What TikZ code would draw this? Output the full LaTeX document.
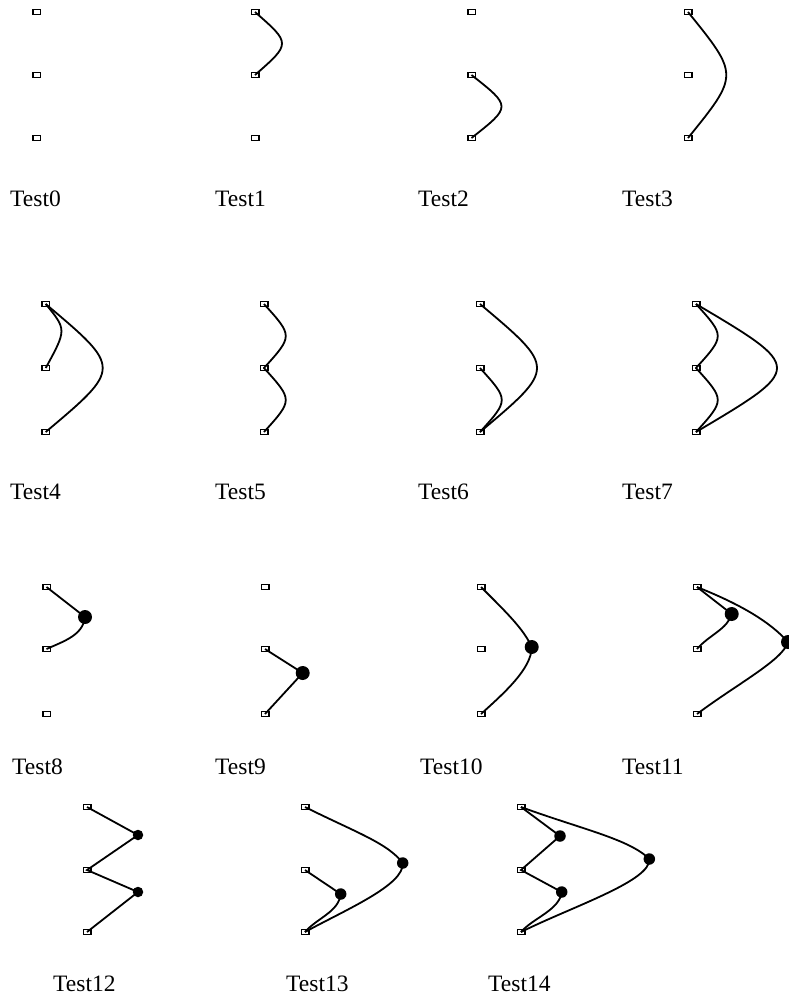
\documentclass[tikz,border=0pt]{standalone}
\usepackage{fontspec}
\setmainfont{Liberation Serif}
\usetikzlibrary{calc}
\tikzset{
  knot/.style={draw,line width=1.5pt,inner sep=0pt,minimum width=7.5pt,minimum height=5pt},
  handle/.style={circle,fill,inner sep=0pt,minimum size=#1},
  handle/.default=14pt,
  spline/.style={line width=1.8pt},
  caption/.style={anchor=base west,inner sep=0pt,font=\fontsize{23.5}{28}\selectfont},
}

\begin{document}
\begin{tikzpicture}[x=1pt,y=1pt]
  \useasboundingbox (0,0) rectangle (788,-997);
  % knots and captions of the fifteen tests
  \foreach \n/\x/\r/\lx in {0/36.5/0/10, 1/255/0/215, 2/471.5/0/418, 3/688/0/622,
      4/45.7/1/10, 5/264/1/215, 6/480/1/418, 7/696/1/622,
      8/46.5/2/12, 9/265/2/215, 10/481/2/420, 11/697/2/622,
      12/87/3/53, 13/305/3/286, 14/521/3/488}
  {
    \pgfmathsetmacro{\yt}{-({12,304,587,807}[\r])}
    \pgfmathsetmacro{\ym}{-({75,368,649,870}[\r])}
    \pgfmathsetmacro{\yb}{-({138,432,714,932}[\r])}
    \pgfmathsetmacro{\yl}{-({206.5,499.5,774,991}[\r])}
    \node[knot] (t\n) at (\x,\yt) {};
    \node[knot] (m\n) at (\x,\ym) {};
    \node[knot] (b\n) at (\x,\yb) {};
    \node[caption] (c\n) at (\lx,\yl) {Test\n};
  }
  % single curves
  \draw[spline] (t1.center) .. controls ($(t1)!.5!(m1)+(36,0)$) .. (m1.center);
  \draw[spline] (m2.center) .. controls ($(m2)!.5!(b2)+(40,0)$) .. (b2.center);
  \draw[spline] (t3.center) .. controls ($(t3)!.5!(b3)+(51,0)$) .. (b3.center);
  \draw[spline] (t4.center) .. controls ($(t4)!.4!(m4)+(21,0)$) .. (m4.center);
  \draw[spline] (t4.center) .. controls ($(t4)!.5!(b4)+(76,0)$) .. (b4.center);
  \draw[spline] (t5.center) .. controls ($(t5)!.5!(m5)+(29,0)$) .. (m5.center)
                            .. controls ($(m5)!.5!(b5)+(29,0)$) .. (b5.center);
  \draw[spline] (t6.center) .. controls ($(t6)!.5!(b6)+(76,0)$) .. (b6.center);
  \draw[spline] (m6.center) .. controls ($(m6)!.5!(b6)+(29,0)$) .. (b6.center);
  \draw[spline] (t7.center) .. controls ($(t7)!.5!(m7)+(29,0)$) .. (m7.center)
                            .. controls ($(m7)!.5!(b7)+(29,0)$) .. (b7.center);
  \draw[spline] (t7.center) .. controls ($(t7)!.5!(b7)+(108,0)$) .. (b7.center);
  % curves through handles
  \node[handle] (h8) at (85,-617) {};
  \draw[spline] (t8.center) -- (h8.center) .. controls +(-2,-18) and +(18,8) .. (m8.center);
  \node[handle] (h9) at (302.7,-673) {};
  \draw[spline] (m9.center) -- (h9.center) -- (b9.center);
  \node[handle] (h10) at (531.7,-647) {};
  \draw[spline] (t10.center) .. controls +(25,-25) and +(-8,18) .. (h10.center)
                             .. controls +(0,-22) and +(22,20) .. (b10.center);
  \node[handle] (ha11) at (731.7,-614) {};
  \node[handle] (hb11) at (788,-642) {};
  \draw[spline] (t11.center) -- (ha11.center) .. controls +(-4,-15) and +(12,14) .. (m11.center);
  \draw[spline] (t11.center) .. controls +(45,-18) and +(-18,20) .. (hb11.center)
                             .. controls +(-5,-18) and +(40,30) .. (b11.center);
  \node[handle=10.5pt] (ha12) at (138,-835) {};
  \node[handle=10.5pt] (hb12) at (138,-892) {};
  \draw[spline] (t12.center) -- (ha12.center) -- (m12.center) -- (hb12.center) -- (b12.center);
  \node[handle=11.5pt] (ha13) at (402.7,-863) {};
  \node[handle=11.5pt] (hb13) at (340.7,-894) {};
  \draw[spline] (t13.center) .. controls +(50,-25) and +(-15,20) .. (ha13.center)
                             .. controls +(2,-22) and +(40,22) .. (b13.center);
  \draw[spline] (m13.center) -- (hb13.center) .. controls +(-2,-18) and +(12,14) .. (b13.center);
  \node[handle=11.5pt] (ha14) at (560,-836) {};
  \node[handle=11.5pt] (hb14) at (561.7,-892) {};
  \node[handle=11.5pt] (hc14) at (649.3,-859) {};
  \draw[spline] (t14.center) -- (ha14.center) -- (m14.center) -- (hb14.center)
                             .. controls +(-2,-18) and +(12,14) .. (b14.center);
  \draw[spline] (t14.center) .. controls +(60,-22) and +(-20,20) .. (hc14.center)
                             .. controls +(2,-22) and +(50,25) .. (b14.center);
\end{tikzpicture}
\end{document}
